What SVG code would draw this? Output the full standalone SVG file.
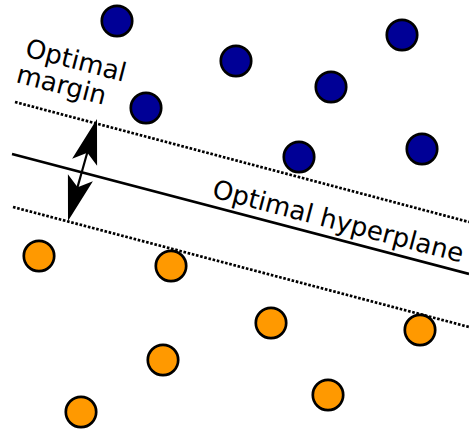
<svg xmlns="http://www.w3.org/2000/svg" width="469" height="434" viewBox="0 0 469 434">
<style>
.b{fill:#000096;stroke:#000;stroke-width:2.7}
.o{fill:#ff9900;stroke:#000;stroke-width:2.7}
.dot{stroke:#000;stroke-width:2.7;stroke-dasharray:2.6,1.7;fill:none}
.solid{stroke:#000;stroke-width:2.7;fill:none}
.t{font-family:"DejaVu Sans",sans-serif;font-size:26px;fill:#000}
</style>
<defs>
<path id="ah" d="M0,0 L13,45 L0,35 L-13,45 Z" fill="#000"/>
</defs>
<g id="connectors">
<line class="dot" x1="15" y1="102" x2="469" y2="222"/>
<line class="solid" x1="12" y1="154" x2="469" y2="274"/>
<line class="dot" x1="13" y1="207" x2="469" y2="327"/>
<g id="margin-arrow">
<line x1="88" y1="150" x2="77" y2="189" stroke="#000" stroke-width="2.2"/>
<use href="#ah" transform="translate(97,119) rotate(16)"/>
<use href="#ah" transform="translate(68,221) rotate(196)"/>
</g>
</g>
<g id="blue">
<circle id="b1" class="b" cx="117" cy="21" r="15.2"/>
<circle id="b2" class="b" cx="236" cy="61" r="15.2"/>
<circle id="b3" class="b" cx="402" cy="35" r="15.2"/>
<circle id="b4" class="b" cx="331" cy="87" r="15.2"/>
<circle id="b5" class="b" cx="146" cy="108" r="15.2"/>
<circle id="b6" class="b" cx="299" cy="157" r="15.2"/>
<circle id="b7" class="b" cx="422" cy="149" r="15.2"/>
</g>
<g id="orange">
<circle id="o1" class="o" cx="39" cy="256" r="15.2"/>
<circle id="o2" class="o" cx="171" cy="266" r="15.2"/>
<circle id="o3" class="o" cx="271" cy="323" r="15.2"/>
<circle id="o4" class="o" cx="420" cy="330" r="15.2"/>
<circle id="o5" class="o" cx="163" cy="360" r="15.2"/>
<circle id="o6" class="o" cx="328" cy="395" r="15.2"/>
<circle id="o7" class="o" cx="81" cy="412" r="15.2"/>
</g>
<g id="label-margin">
<text class="t" transform="translate(24,56) rotate(14.5)">Optimal</text>
<text class="t" transform="translate(15,82) rotate(14.5)">margin</text>
</g>
<g id="label-hyperplane">
<text class="t" transform="translate(211,197) rotate(14.7)">Optimal hyperplane</text>
</g>
</svg>
